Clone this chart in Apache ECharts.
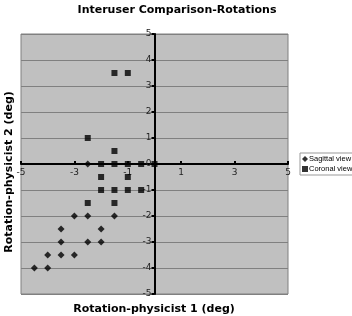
<!DOCTYPE html>
<html>
<head>
<meta charset="utf-8">
<script src="https://cdn.jsdelivr.net/npm/echarts@6/dist/echarts.min.js"></script>
<style>
  html, body { margin: 0; padding: 0; background: #fff; }
  #chart { width: 352px; height: 316px; }
</style>
</head>
<body>
<div id="chart"></div>
<script>
// data
var sagittal = [
  [-2.5, 0], [-3, -2], [-2.5, -2], [-1.5, -2],
  [-3.5, -2.5], [-2, -2.5],
  [-3.5, -3], [-2.5, -3], [-2, -3],
  [-4, -3.5], [-3.5, -3.5], [-3, -3.5],
  [-4.5, -4], [-4, -4]
];
var coronal = [
  [-1.5, 3.5], [-1, 3.5], [-2.5, 1], [-1.5, 0.5],
  [-2, 0], [-1.5, 0], [-1, 0], [-0.5, 0], [0, 0],
  [-2, -0.5], [-1, -0.5],
  [-2, -1], [-1.5, -1], [-1, -1], [-0.5, -1],
  [-2.5, -1.5], [-1.5, -1.5]
];
var xRange = [-5, 5];
var yRange = [-5, 5];

var font = 'Verdana, "DejaVu Sans", sans-serif';
var myChart = echarts.init(document.getElementById('chart'));

// grid box
var gLeft = 21, gRight = 64, gTop = 34, gBottom = 22;
var gW = 352 - gLeft - gRight, gH = 316 - gTop - gBottom;
// axes cross at 0 -> shift both axes (line, ticks, labels) into the middle
var yShift = gW * (0 - xRange[0]) / (xRange[1] - xRange[0]);
var xShift = gH * (0 - yRange[0]) / (yRange[1] - yRange[0]);

var option = {
  animation: false,
  textStyle: { fontFamily: font },
  title: {
    text: 'Interuser Comparison-Rotations',
    left: 172,
    textAlign: 'center',
    top: 0,
    textStyle: { fontSize: 11, fontWeight: 'bold', color: '#000' }
  },
  grid: {
    left: gLeft, right: gRight, top: gTop, bottom: gBottom,
    show: true,
    backgroundColor: '#c0c0c0',
    borderColor: '#808080',
    borderWidth: 1
  },
  legend: {
    orient: 'vertical',
    left: 300,
    top: 153,
    padding: [2, 2],
    itemGap: 2,
    itemWidth: 6,
    itemHeight: 6,
    borderColor: '#999',
    borderWidth: 1,
    backgroundColor: '#fff',
    textStyle: { fontSize: 7.5, fontFamily: '"Liberation Sans", Arial, sans-serif', color: '#000', padding: [0, 0, 0, -4] },
    data: [
      { name: 'Sagittal view', icon: 'diamond' },
      { name: 'Coronal view', icon: 'rect' }
    ]
  },
  xAxis: {
    type: 'value',
    min: xRange[0],
    max: xRange[1],
    interval: 2,
    offset: -xShift,
    axisLine: { onZero: false, lineStyle: { color: '#000', width: 2 } },
    axisTick: { inside: true, length: 3, lineStyle: { color: '#000', width: 2 } },
    axisLabel: { fontSize: 9, color: '#222', margin: 4 },
    splitLine: { show: false }
  },
  yAxis: {
    type: 'value',
    min: yRange[0],
    max: yRange[1],
    interval: 1,
    offset: -yShift,
    axisLine: { onZero: false, lineStyle: { color: '#000', width: 2 } },
    axisTick: { length: 3, lineStyle: { color: '#000', width: 2 } },
    axisLabel: { fontSize: 9, color: '#222', margin: 3 },
    splitLine: { show: true, lineStyle: { color: '#808080', width: 1 } }
  },
  graphic: [
    {
      type: 'text',
      x: 154, y: 309,
      style: {
        text: 'Rotation-physicist 1 (deg)',
        x: 0, y: 0,
        align: 'center', verticalAlign: 'middle',
        font: 'bold 11px ' + font,
        fill: '#000'
      }
    },
    {
      type: 'text',
      x: 9, y: 172,
      rotation: Math.PI / 2,
      style: {
        text: 'Rotation-physicist 2 (deg)',
        x: 0, y: 0,
        align: 'center', verticalAlign: 'middle',
        font: 'bold 11px ' + font,
        fill: '#000'
      }
    }
  ],
  series: [
    {
      name: 'Sagittal view',
      type: 'scatter',
      symbol: 'diamond',
      symbolSize: 7,
      itemStyle: { color: '#000' },
      data: sagittal
    },
    {
      name: 'Coronal view',
      type: 'scatter',
      symbol: 'rect',
      symbolSize: 6,
      itemStyle: { color: '#000' },
      data: coronal
    }
  ]
};

myChart.setOption(option);
</script>
</body>
</html>
